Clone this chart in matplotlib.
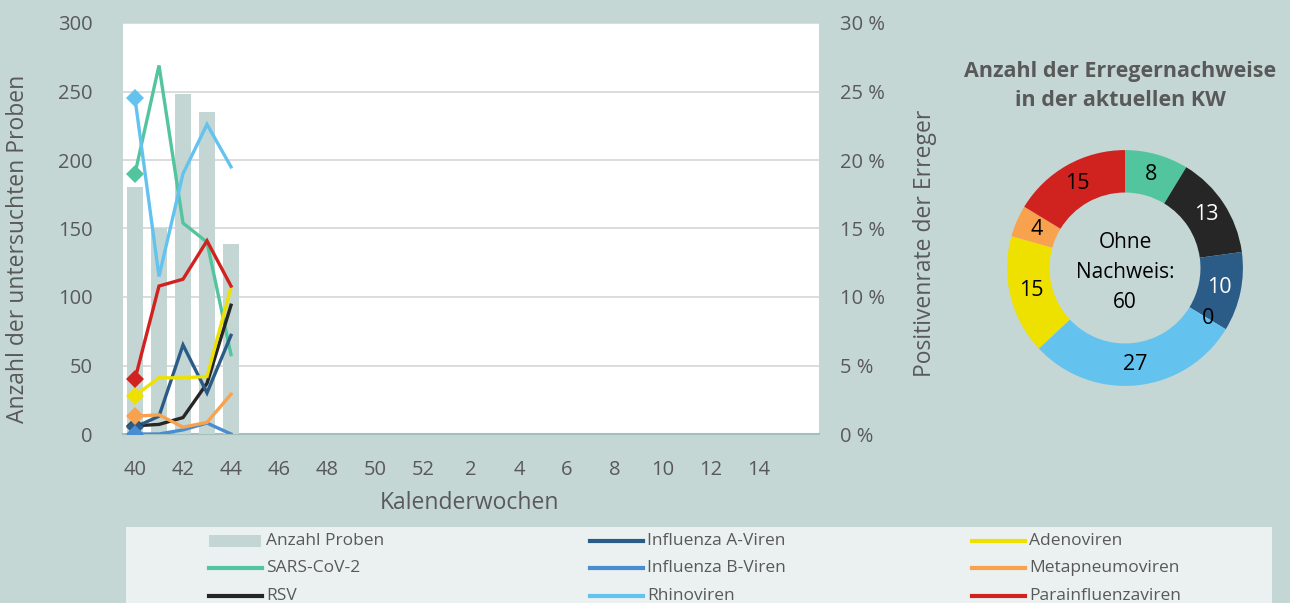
import numpy as np
import matplotlib
matplotlib.use("Agg")
import matplotlib.pyplot as plt
from matplotlib.lines import Line2D
from matplotlib.patches import Rectangle

plt.rcParams['font.family'] = ['Open Sans', 'DejaVu Sans']

# ---------------- data ----------------
weeks = [40, 41, 42, 43, 44, 45, 46, 47, 48, 49, 50, 51, 52,
         1, 2, 3, 4, 5, 6, 7, 8, 9, 10, 11, 12, 13, 14, 15, 16]
samples = [180, 150, 248, 235, 139]

series_names = ["SARS-CoV-2", "RSV", "Influenza A-Viren", "Influenza B-Viren",
                "Rhinoviren", "Adenoviren", "Metapneumoviren", "Parainfluenzaviren"]
sars = [19.0, 26.9, 15.4, 14.0, 5.8]
rsv = [0.6, 0.7, 1.2, 3.7, 9.4]
infl_a = [0.5, 1.3, 6.5, 3.0, 7.2]
infl_b = [0.0, 0.0, 0.3, 0.8, 0.0]
rhino = [24.5, 11.5, 19.0, 22.6, 19.5]
adeno = [2.8, 4.1, 4.1, 4.2, 10.7]
metap = [1.3, 1.4, 0.5, 0.85, 2.9]
parainf = [4.0, 10.8, 11.3, 14.1, 10.8]

colors = ["#52C59E", "#262626", "#2B5C88", "#4A8CD2",
          "#63C3EE", "#EEE100", "#F9A24E", "#D0231F"]

donut_values = [8, 13, 10, 0, 27, 15, 4, 15]
no_detection = 60

# ---------------- figure ----------------
W, H = 1290, 603
BG = "#C4D7D4"
TXT = "#595959"
fig = plt.figure(figsize=(W / 100, H / 100), dpi=100, facecolor=BG)

def fx(px):
    return px / W

def fy(py):
    return 1 - py / H

ax = fig.add_axes([fx(123), fy(434), fx(819) - fx(123), fy(23) - fy(434)])
ax.set_facecolor("white")
x = np.arange(len(weeks))
ax.bar(x[:len(samples)], samples, width=0.7, color="#C3D6D3", zorder=2)
ax.set_xlim(-0.5, len(weeks) - 0.5)
ax.set_ylim(0, 300)
ax.set_yticks(np.arange(0, 301, 50))
ax.yaxis.grid(True, color="#D9D9D9", linewidth=1.3, zorder=0)
ax.set_axisbelow(True)
for s in ["top", "right", "left"]:
    ax.spines[s].set_visible(False)
ax.spines["bottom"].set_color("#A3BFBB")
ax.spines["bottom"].set_linewidth(1.5)
ax.spines["bottom"].set_zorder(1)
tick_idx = list(range(0, 27, 2))
ax.set_xticks(tick_idx)
ax.set_xticklabels([str(weeks[i]) for i in tick_idx])
ax.tick_params(axis="both", length=0, labelsize=14.5, colors=TXT)
ax.tick_params(axis="x", pad=19)
ax.tick_params(axis="y", pad=22)
ax.set_xlabel("Kalenderwochen", fontsize=16.5, color=TXT)
ax.xaxis.set_label_coords((470 - 123) / 696, (434 - 503) / 411)
ax.xaxis.label.set_va("center")
ax.set_ylabel("Anzahl der untersuchten Proben", fontsize=16.5, color=TXT)
ax.yaxis.set_label_coords((18 - 123) / 696, (434 - 249) / 411)
ax.yaxis.label.set_va("center")

axr = ax.twinx()
axr.set_ylim(0, 30)
axr.set_yticks(np.arange(0, 31, 5))
axr.set_yticklabels([f"{v} %" for v in range(0, 31, 5)])
axr.tick_params(axis="y", length=0, labelsize=14.5, colors=TXT, pad=15)
for s in axr.spines.values():
    s.set_visible(False)
axr.set_ylabel("Positivenrate der Erreger", fontsize=16.5, color=TXT)
axr.yaxis.set_label_coords((925 - 123) / 696, (434 - 243) / 411)
axr.yaxis.label.set_va("center")

all_series = [sars, rsv, infl_a, infl_b, rhino, adeno, metap, parainf]
for vals, c in zip(all_series, colors):
    xx = x[:len(vals)]
    axr.plot(xx, vals, color=c, linewidth=2.4, solid_joinstyle="miter", zorder=3)
    axr.plot(xx[:1], vals[:1], linestyle="none", marker="D", markersize=9,
             color=c, markeredgewidth=0, zorder=4)

# ---------------- donut ----------------
axd = fig.add_axes([fx(1000), fy(393), fx(1250) - fx(1000), fy(143) - fy(393)])
axd.pie(donut_values, colors=colors, startangle=90, counterclock=False,
        radius=1.0, wedgeprops=dict(width=0.36, linewidth=0))
axd.set_xlim(-1.06, 1.06)
axd.set_ylim(-1.06, 1.06)
axd.set_aspect("equal")
axd.axis("off")
total = sum(donut_values)
cum = 0
label_cols = ["black", "white", "white", "black", "black", "black", "black", "black"]
for v, lc in zip(donut_values, label_cols):
    mid = cum + v / 2
    ang = np.deg2rad(90 - 360 * mid / total)
    r = 0.82
    axd.text(r * np.cos(ang), r * np.sin(ang), str(v), ha="center", va="center",
             fontsize=15.5, color=lc)
    cum += v
axd.text(0, -0.04, f"Ohne\nNachweis:\n{no_detection}", ha="center", va="center",
         fontsize=15, color="black", linespacing=1.55)

fig.text(fx(1120), fy(86), "Anzahl der Erregernachweise\nin der aktuellen KW",
         ha="center", va="center", fontsize=15.5, fontweight="bold", color=TXT,
         linespacing=1.55)

# ---------------- legend ----------------
fig.add_artist(Rectangle((fx(126), 0), fx(1272) - fx(126), fy(527), transform=fig.transFigure,
                         facecolor="#EAF1F0", edgecolor="none", zorder=0))
leg_labels = ["Anzahl Proben"] + series_names
leg_colors = ["#C3D6D3"] + colors
col_x = [209, 590, 972]
row_y = [541, 568, 596]
for i, (lab, c) in enumerate(zip(leg_labels, leg_colors)):
    col, row = divmod(i, 3)
    hx0 = col_x[col]
    yy = row_y[row]
    if i == 0:
        fig.add_artist(Rectangle((fx(hx0), fy(yy + 6)), fx(52), 12 / H,
                                 transform=fig.transFigure, facecolor=c,
                                 edgecolor="none"))
    else:
        fig.add_artist(Line2D([fx(hx0), fx(hx0 + 53)], [fy(yy), fy(yy)],
                              transform=fig.transFigure, color=c, linewidth=3))
    fig.text(fx(hx0 + 57), fy(yy), lab, ha="left", va="center", fontsize=12.5, color=TXT)

fig.savefig("out.png", dpi=100, facecolor=BG)
